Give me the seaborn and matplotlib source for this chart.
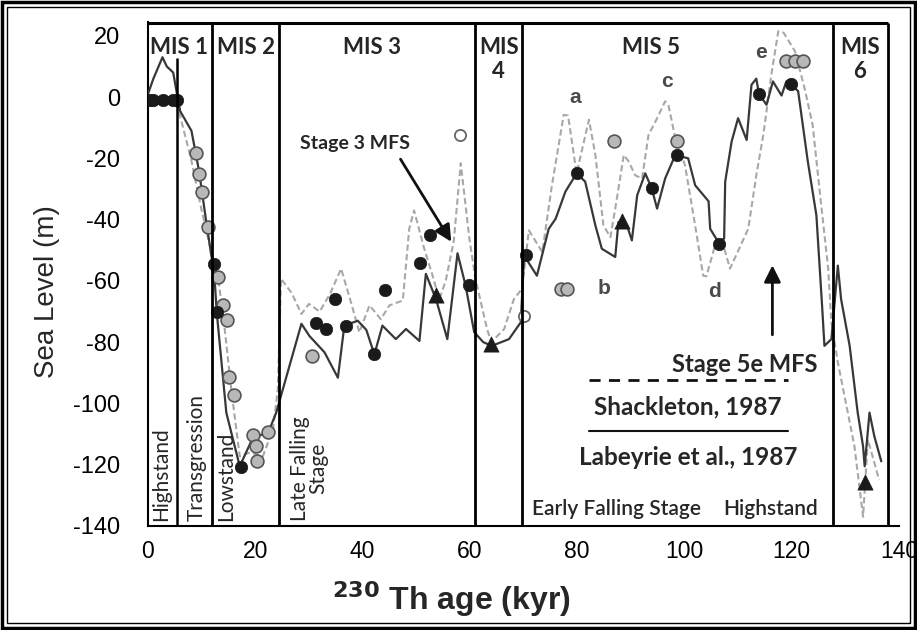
import numpy as np
import pandas as pd
import matplotlib
matplotlib.use("Agg")
import matplotlib.pyplot as plt
import seaborn as sns
from matplotlib.patches import Rectangle

# ---------------- data ----------------
lab_age = [0, 1, 2.7, 3.5, 4.7, 5.4, 6, 8.1, 9.5, 10.8, 11.8, 12.3, 12.8, 14.6, 17.1, 19.6, 22.4, 23.9,
           28.6, 30.1, 32.9, 35.4, 36.6, 39.1, 40.7, 42.2, 43.7, 46.2, 48.1, 50.6, 51.8, 53.7, 55.8,
           57.7, 59.2, 60.8, 62.5, 64.1, 67.3, 69.5, 70.1, 72.5, 74.7, 76, 77.8, 79.9, 81.5, 83.4,
           84.6, 87.1, 87.7, 89.3, 90.2, 91.2, 92.7, 93.9, 94.9, 96.4, 98.3, 100.7, 102, 104.5,
           104.8, 106.3, 107.4, 107.6, 108.8, 110, 111.6, 112.5, 113.4, 113.9, 115.3, 116.5, 118.1,
           119, 119.8, 121.2, 123, 124.6, 125.7, 126.1, 127.4, 128.6, 129.2, 130.8, 132.3, 133.3,
           133.6, 134.5, 135.4, 136.7]
lab_sl = [1, 6, 13, 10, 8, 1, -4.6, -11, -24, -40, -51.7, -56, -70, -103, -120.5, -111, -109.6, -103,
          -74, -78, -83.3, -91.6, -74.6, -73, -76, -84, -74.6, -79, -75.7, -79.6, -57.7, -66, -79,
          -51, -61.5, -76.7, -80, -81.2, -79, -73.5, -51.7, -58.3, -43, -39.7, -30.9, -24.9, -27.6, -41.9,
          -49.5, -52.2, -40.8, -41.9, -46.8, -32, -24.9, -29.8, -36.4, -26.6, -18.9, -20, -28.8, -34,
          -43, -47.3, -46.2, -27.6, -14.5, -6.9, -14, 4, 6, 1, -2.5, 5.1, 0.5,
          5.1, 4.3, 1.9, -21, -38.6, -69.2, -81.2, -79, -55, -65.9, -81.2, -103, -114,
          -120.5, -103, -110.7, -118.9]

sh_age = [0, 2, 4, 5.6, 8, 10, 12, 13.1, 14.3, 15.5, 17.1, 19, 21.4, 23.3, 24.2, 24.8, 26.8, 28.6,
          30, 32, 34, 36, 38, 39.4, 41.3, 43.4, 45, 47.5, 48.7, 49.6, 51.5, 53, 54.3, 55.5, 57, 58.3,
          59.9, 61, 63.2, 64, 66.4, 68.2, 69.7, 71, 73.5, 75.3, 77.5, 78.3, 79.9, 82.2, 83.4, 84.9,
          86.2, 87.1, 88.7, 89.6, 90.8, 92.1, 93.3, 94.6, 96.4, 97, 98.3, 100.1, 102, 103.5, 104.1,
          105.7, 106.9, 108.5, 111.9, 113.4, 114.7, 115.3, 116.2, 117.5, 118.5, 120.6, 122.4, 123.9,
          125.5, 126.8, 127.4, 128.6, 131.7, 133.3, 134.2, 136.3]
sh_sl = [-1, -2, -1, -3.6, -20, -37, -52, -59.3, -75.7, -95, -117.3, -116, -117.3, -108.5, -95.4, -59.3,
         -64, -70.8, -67.5, -70, -64, -56, -68, -76.8, -68, -72.5, -68, -66.4, -43, -37, -49.5, -58, -66,
         -60, -47, -21.6, -46, -59, -75.7, -80, -75.7, -66, -62.6, -43.5, -50.6, -28.8, -5.8, -6, -24.9,
         -7.4, -18.9, -41.9, -45.7, -36.4, -18.9, -21, -25.5, -26.6, -12.4, -8, -1.4, -2.5, -13.4, -22.2,
         -41.9, -58.3, -58.5, -48.4, -46.2, -56, -43, -25.5, -12.4, -4.7, 7.3, 21.5, 21, 15, 2.9, -9.1,
         -35.3, -56, -73.5, -86.6, -114, -137, -111.8, -125]

black_age = [0.4, 1.0, 2.8, 4.7, 5.4, 12.3, 12.8, 17.3, 31.4, 33.1, 34.9, 36.9, 42.2, 44.1, 50.7, 52.6,
             59.9, 70.4, 79.9, 93.9, 98.6, 106.5, 113.9, 119.8]
black_sl = [-1, -1, -1, -1, -1, -54.4, -70.3, -120.8, -73.8, -75.7, -65.9, -74.6, -84, -62.9, -54.1,
            -45.1, -61.5, -51.7, -24.9, -29.8, -18.9, -47.9, 1, 4.3]

gray_age = [9.0, 9.5, 10.0, 11.2, 13.1, 14.0, 14.7, 15.1, 16.0, 19.5, 20.1, 20.3, 22.4, 30.6,
            86.8, 98.6, 76.9, 78.1, 119.0, 120.6, 122.1]
gray_sl = [-18.4, -25.1, -30.9, -42.4, -58.6, -67.9, -72.7, -91.4, -97.4, -110.3, -114, -118.9, -109.3,
           -84.5, -14.5, -14.3, -62.6, -62.6, 11.7, 11.7, 11.7]

open_age = [58.2, 70.1]
open_sl = [-12.4, -71.4]

tri_age = [53.7, 63.9, 88.3, 133.6]
tri_sl = [-64.5, -80.5, -40.5, -125.5]

mis_bounds = [12.0, 24.5, 61.0, 69.7, 127.7, 138.0]
mis_labels = ["MIS 1", "MIS 2", "MIS 3", "MIS\n4", "MIS 5", "MIS\n6"]
mis_label_x = [5.8, 18.3, 41.8, 65.4, 93.7, 132.7]

phase_labels = ["Highstand", "Transgression", "Lowstand", "Late Falling\nStage"]
phase_x = [2.4, 9.0, 14.6, 30.0]

peak_letters = ["a", "b", "c", "d", "e"]
peak_x = [79.7, 85.1, 96.7, 105.6, 114.3]
peak_y = [-0.3, -62.6, 5.2, -63.3, 14.4]

# ---------------- figure ----------------
sns.set_style("white")
plt.rcParams['font.family'] = ['Liberation Sans', 'DejaVu Sans']
plt.rcParams['axes.unicode_minus'] = False

fig = plt.figure(figsize=(9.17, 6.30), dpi=100)
ax = fig.add_axes([148/917, 1-526/630, (899-148)/917, (526-22)/630])

YTOP = 24.5
ax.set_xlim(0, 140)
ax.set_ylim(-140, YTOP)

sns.lineplot(x=sh_age, y=sh_sl, ax=ax, color="#a8a8a8", lw=1.5, sort=False, estimator=None,
             linestyle=(0, (3, 1.6)), zorder=3)
sns.lineplot(x=lab_age, y=lab_sl, ax=ax, color="#383838", lw=1.6, sort=False, estimator=None, zorder=4)

sns.scatterplot(x=gray_age, y=gray_sl, ax=ax, s=85, color="#b8b8b8", edgecolor="#555555",
                linewidth=1.2, zorder=6)
sns.scatterplot(x=open_age, y=open_sl, ax=ax, s=65, color="white", edgecolor="#666666",
                linewidth=1.3, zorder=6)
sns.scatterplot(x=black_age, y=black_sl, ax=ax, s=80, color="#1a1a1a", edgecolor="#1a1a1a",
                linewidth=0.5, zorder=7)
sns.scatterplot(x=tri_age, y=tri_sl, ax=ax, s=120, marker="^", color="#1a1a1a", edgecolor="#1a1a1a",
                linewidth=0.5, zorder=7)

# MIS boxes
ax.hlines(YTOP - 0.4, 0, mis_bounds[-1], color="black", lw=2.2, zorder=8, clip_on=False)
for b in mis_bounds:
    ax.vlines(b, -140, YTOP - 0.4, color="black", lw=2.0, zorder=8)
ax.vlines(5.4, -140, 12.8, color="black", lw=1.8, zorder=8)

lato = ['Lato', 'DejaVu Sans']
for lbl, xx in zip(mis_labels, mis_label_x):
    ax.text(xx, 19.6, lbl, ha="center", va="top", fontsize=16, fontweight="bold",
            family=lato, linespacing=1.15, zorder=9)

for lbl, xx in zip(phase_labels, phase_x):
    ax.text(xx, -138.3, lbl, rotation=90, ha="center", va="bottom", fontsize=15,
            family=lato, linespacing=0.9, zorder=9)

ax.text(71.6, -134.6, "Early Falling Stage", ha="left", va="center", fontsize=15,
        family=lato, fontweight="semibold", zorder=9)
ax.text(107.2, -134.6, "Highstand", ha="left", va="center", fontsize=15,
        family=lato, fontweight="semibold", zorder=9)

for lbl, xx, yy in zip(peak_letters, peak_x, peak_y):
    ax.text(xx, yy, lbl, ha="center", va="center", fontsize=15, fontweight="bold",
            color="#4a4a4a", zorder=9)

# MFS annotations
ax.text(38.6, -15.1, "Stage 3 MFS", ha="center", va="center", fontsize=14, fontweight="bold",
        family=lato, zorder=9)
ax.annotate("", xy=(56.8, -48.0), xytext=(46.8, -19.5),
            arrowprops=dict(arrowstyle="-|>,head_length=1.0,head_width=0.5", color="#111111", lw=2),
            zorder=9)
ax.text(111.2, -87.2, "Stage 5e MFS", ha="center", va="center", fontsize=17, fontweight="bold",
        family=lato, zorder=9)
ax.annotate("", xy=(116.4, -54.0), xytext=(116.4, -78.5),
            arrowprops=dict(arrowstyle="-|>,head_length=1.0,head_width=0.5", color="#111111", lw=2),
            zorder=9)

# key
ax.plot([82.2, 119.3], [-92.5, -92.5], color="#111111", lw=2, linestyle=(0, (4, 3)), zorder=9)
ax.text(100.7, -101.2, "Shackleton, 1987", ha="center", va="center", fontsize=17.5,
        fontweight="bold", family=lato, zorder=9)
ax.plot([82.2, 119.3], [-108.9, -108.9], color="#111111", lw=1.5, zorder=9)
ax.text(100.7, -117.7, "Labeyrie et al., 1987", ha="center", va="center", fontsize=17.5,
        fontweight="bold", family=lato, zorder=9)

# axes styling
ax.set_xticks(np.arange(0, 141, 20))
ax.set_yticks(np.arange(-140, 21, 20))
ax.tick_params(axis="y", direction="out", length=13, width=1.2, labelsize=17, pad=7, colors="black")
ax.tick_params(axis="x", direction="out", length=7, width=1.2, labelsize=16.5, pad=3, colors="black")
sns.despine(ax=ax, top=True, right=True)
for side in ["left", "bottom"]:
    ax.spines[side].set_linewidth(1.5)
    ax.spines[side].set_color("black")

ax.set_ylabel("Sea Level (m)", fontsize=20)
ax.yaxis.set_label_coords(-0.117, 0.466)
ax.set_xlabel(r"$^{\mathbf{230}}$ Th age (kyr)", fontsize=23, fontweight="bold")
ax.xaxis.set_label_coords(0.404, -0.105)

# double frame around figure
fig.patches.append(Rectangle((2/917, 2/630), 1-4/917, 1-4/630, transform=fig.transFigure,
                             fill=False, edgecolor="black", lw=2.5))
fig.patches.append(Rectangle((7/917, 7/630), 1-14/917, 1-14/630, transform=fig.transFigure,
                             fill=False, edgecolor="black", lw=1.0))

fig.savefig("out.png", dpi=100)
